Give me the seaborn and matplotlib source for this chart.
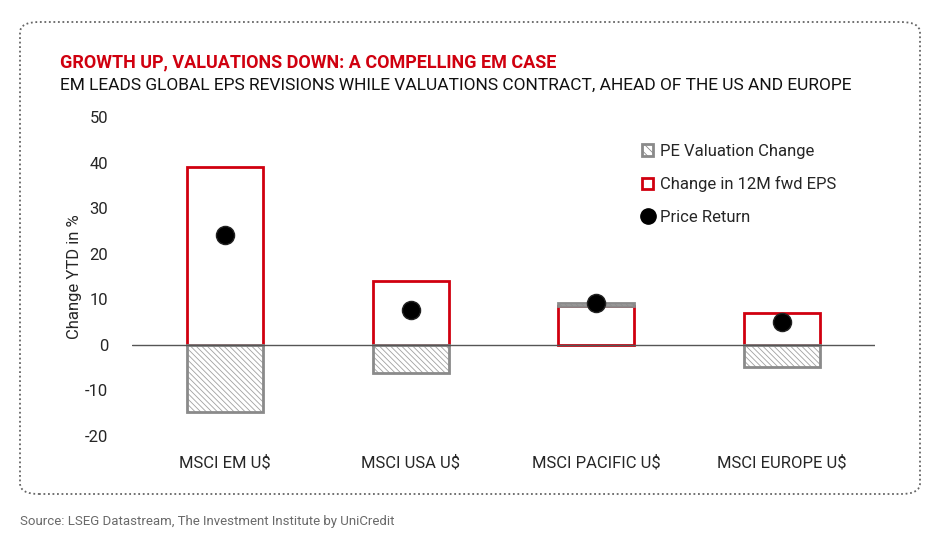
import matplotlib
matplotlib.use("Agg")
import matplotlib.pyplot as plt
from matplotlib.patches import Patch, FancyBboxPatch
from matplotlib.lines import Line2D
import seaborn as sns
import pandas as pd

categories = ["MSCI EM U$", "MSCI USA U$", "MSCI PACIFIC U$", "MSCI EUROPE U$"]
eps_change = [39.1, 14.1, 8.6, 7.1]
pe_change = [-14.8, -6.2, 0.6, -4.8]
price_return = [24.1, 7.7, 9.2, 5.1]

RED = "#d0000f"
GREY = "#8a8a8a"

sns.set_theme(style="white")
plt.rcParams["font.family"] = ["Roboto", "DejaVu Sans"]
plt.rcParams["hatch.linewidth"] = 0.6
plt.rcParams["axes.unicode_minus"] = False

df = pd.DataFrame({"cat": categories, "eps": eps_change, "pe": pe_change,
                   "price": price_return})
# positive PE change gets stacked on top of the EPS bar
pe_bottom = [e if p > 0 else 0 for e, p in zip(eps_change, pe_change)]

fig = plt.figure(figsize=(9.48, 5.35), dpi=100)
ax = fig.add_axes([132 / 948, 1 - 436 / 535, 743 / 948, 319 / 535])

sns.barplot(data=df, x="cat", y="eps", ax=ax, width=0.41, fill=False,
            edgecolor=RED, linewidth=2, errorbar=None, zorder=2)
# hatch layer, then outline on top
sns.barplot(data=df, x="cat", y="pe", ax=ax, width=0.41, color="white",
            edgecolor="#a0a0a0", hatch="\\\\\\\\\\\\", linewidth=0,
            errorbar=None, bottom=pe_bottom, zorder=3)
sns.barplot(data=df, x="cat", y="pe", ax=ax, width=0.41, color="white",
            fill=False, edgecolor=GREY, linewidth=2, errorbar=None,
            bottom=pe_bottom, zorder=3)
ax.axhline(0, color="#555555", lw=1, zorder=4)
sns.scatterplot(data=df, x="cat", y="price", ax=ax, color="black", s=170,
                edgecolor="#222222", linewidth=1, zorder=5)

ax.set_xlim(-0.5, 3.5)
ax.set_ylim(-20, 50)
ax.set_yticks(range(-20, 51, 10))
ax.set_xlabel("")
ax.set_ylabel("Change YTD in %", fontsize=12, labelpad=2)
ax.tick_params(axis="y", length=0, pad=17, labelsize=12)
ax.tick_params(axis="x", length=0, pad=14, labelsize=12)
sns.despine(ax=ax, left=True, bottom=True)

handles = [
    Patch(facecolor="white", edgecolor=GREY, hatch="\\\\\\\\", linewidth=2,
          label="PE Valuation Change"),
    Patch(facecolor="white", edgecolor=RED, linewidth=2,
          label="Change in 12M fwd EPS"),
    Line2D([], [], marker="o", color="black", linestyle="none",
           markersize=11, label="Price Return"),
]
fig.legend(handles=handles, loc="upper left", bbox_to_anchor=(635 / 948, 1 - 137 / 535),
           frameon=False, fontsize=12, handlelength=0.7, handleheight=0.7,
           handletextpad=0.4, labelspacing=1.05, borderaxespad=0)

fig.text(60 / 948, 1 - 62 / 535, "GROWTH UP, VALUATIONS DOWN: A COMPELLING EM CASE",
         color=RED, fontsize=13, fontweight="bold", va="center")
fig.text(60 / 948, 1 - 85 / 535,
         "EM LEADS GLOBAL EPS REVISIONS WHILE VALUATIONS CONTRACT, AHEAD OF THE US AND EUROPE",
         color="#111111", fontsize=12.5, va="center")
fig.text(20 / 948, 1 - 521 / 535,
         "Source: LSEG Datastream, The Investment Institute by UniCredit",
         color="#6a6a6a", fontsize=9.5, va="center")

frame = FancyBboxPatch((20 / 948, 1 - 494 / 535), 900 / 948, 472 / 535,
                       boxstyle="round,pad=0,rounding_size=0.02",
                       transform=fig.transFigure, fill=False,
                       edgecolor="#666666", linestyle=(0, (1, 1.5)), lw=1.3)
fig.patches.append(frame)

fig.savefig("out.png", dpi=100)
